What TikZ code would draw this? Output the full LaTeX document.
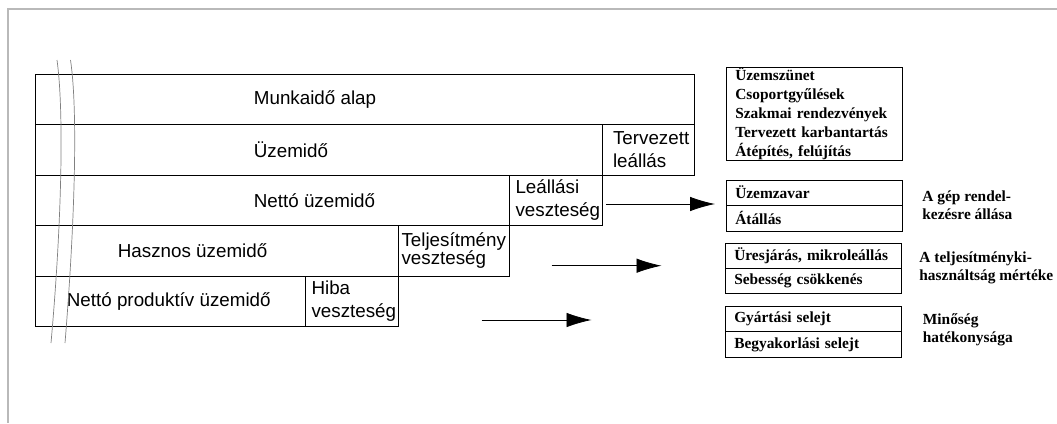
\documentclass[tikz,border=0pt]{standalone}
\usepackage{fontspec}
\setmainfont{Liberation Serif}
\newfontfamily\arialfont{Liberation Sans}
\usetikzlibrary{arrows.meta, calc, positioning}

\begin{document}
\begin{tikzpicture}[x=1pt, y=-1pt,
	            row/.style={
	            draw,
	            outer sep=0pt,
	            inner sep=0pt,
	            anchor=north west,
	            minimum height=50.5pt,
	            },
	            loss/.style={
	            row,
	            align=left,
	            font=\arialfont\fontsize{18.8}{23.5}\selectfont,
	            },
	            rowtext/.style={
	            anchor=west,
	            inner sep=0pt,
	            font=\arialfont\fontsize{18.8}{23.5}\selectfont,
	            },
	            item/.style={
	            draw,
	            outer sep=0pt,
	            inner sep=0pt,
	            minimum width=176.5pt,
	            minimum height=25pt,
	            text width=158pt,
	            align=left,
	            font=\bfseries\fontsize{15.4}{18.8}\selectfont,
	            },
	            note/.style={
	            anchor=west,
	            inner sep=0pt,
	            align=left,
	            font=\bfseries\fontsize{15.4}{18}\selectfont,
	            },
	            brk/.style={draw, gray, line width=0.7pt},
	            >={Latex[length=25pt, width=14.5pt]},
	            every path/.style={
                    line width=0.8pt
                }]

	        \useasboundingbox (0,0) rectangle (1057,423);
	        \draw[gray!55, line width=2pt] (1057,9) -- (8,9) -- (8,423);

	        % time rows
	        \node[row, minimum width=659pt] (r1) at (35,74) {};
	        \node[row, minimum width=567pt] (r2) at (r1.south west) {};
	        \node[row, minimum width=474pt] (r3) at (r2.south west) {};
	        \node[row, minimum width=363pt] (r4) at (r3.south west) {};
	        \node[row, minimum width=270pt] (r5) at (r4.south west) {};

	        \node[rowtext] (t1) at ([xshift=218.5pt]r1.west) {Munkaidő alap};
	        \node[rowtext] (t2) at ([xshift=218.5pt]r2.west) {Üzemidő};
	        \node[rowtext] (t3) at ([xshift=218.5pt]r3.west) {Nettó üzemidő};
	        \node[rowtext] (t4) at ([xshift=82.5pt]r4.west) {Hasznos üzemidő};
	        \node[rowtext] (t5) at ([xshift=31.5pt]r5.west) {Nettó produktív üzemidő};

	        % losses
	        \node[loss, minimum width=92pt, text width=70pt] (plan) at (r2.north east) {Tervezett\\leállás};
	        \node[loss, minimum width=93pt, text width=80pt] (leall) at (r3.north east) {Leállási\\veszteség};
	        \node[loss, minimum width=111pt, text width=104pt] (telj) at (r4.north east) {Teljesítmény\\[-6pt]veszteség};
	        \node[loss, minimum width=93pt, text width=80pt] (hiba) at (r5.north east) {Hiba\\veszteség};

	        % break lines
	        \draw[brk] (57,60) .. controls (64,110) and (62,220) .. (51,343);
	        \draw[brk] (70.5,60) .. controls (78,110) and (75,220) .. (65,343);

	        % reasons
	        \node[item, minimum height=92.7pt, anchor=north west] (okok) at (726,67.3) {Üzemszünet\\Csoportgyűlések\\Szakmai rendezvények\\Tervezett karbantartás\\Átépítés, felújítás};

	        \node[item, anchor=north west] (zavar) at (726,180) {Üzemzavar};
	        \node[item, below=0pt of zavar, minimum height=26pt] (atall) {Átállás};

	        \node[item, anchor=north west] (ures) at (725,243.3) {Üresjárás, mikroleállás};
	        \node[item, below=0pt of ures] (sebes) {Sebesség csökkenés};

	        \node[item, anchor=north west] (gyart) at (725,306.7) {Gyártási selejt};
	        \node[item, below=0pt of gyart, minimum height=25.6pt] (begy) {Begyakorlási selejt};

	        \node[note, xshift=19.5pt] (gep) at (zavar.south east) {A gép rendel-\\kezésre állása};
	        \node[note, xshift=17.5pt] (kihasz) at (ures.south east) {A teljesítményki-\\használtság mértéke};
	        \node[note, xshift=21pt, yshift=1.5pt] (minos) at (gyart.south east) {Minőség\\hatékonysága};

	        % arrows
	        \coordinate (s1) at (606,204);
	        \coordinate (e1) at (715,204);
	        \coordinate (s2) at (551.5,265.7);
	        \coordinate (e2) at (661.5,265.7);
	        \coordinate (s3) at (481.5,320);
	        \coordinate (e3) at (591.5,320);

	        \draw[->] (s1) -- (e1);
	        \draw[->] (s2) -- (e2);
	        \draw[->] (s3) -- (e3);

	    \end{tikzpicture}
\end{document}
